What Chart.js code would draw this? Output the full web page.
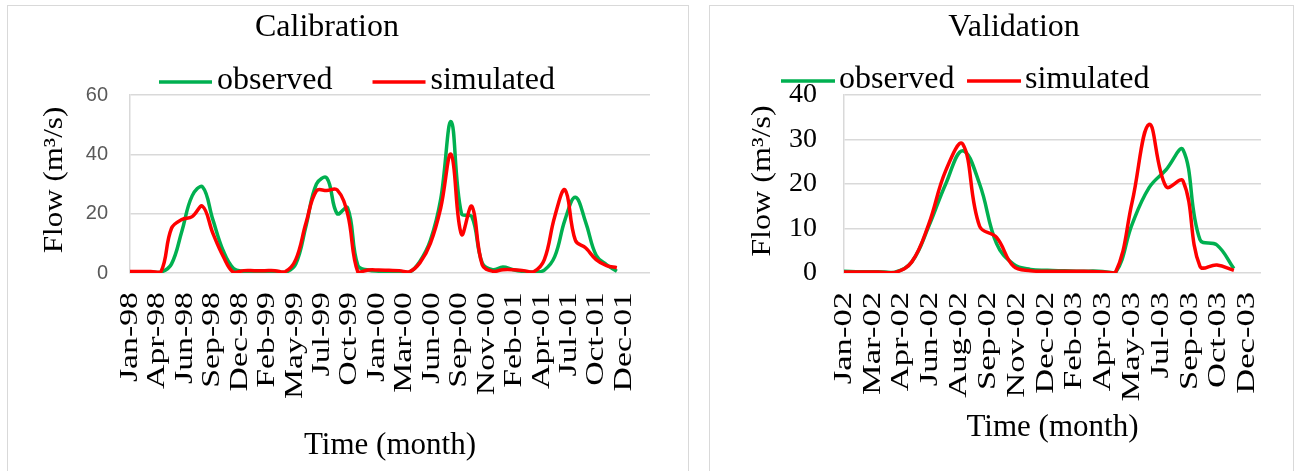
<!DOCTYPE html>
<html>
<head>
<meta charset="utf-8">
<title>Calibration / Validation flow</title>
<script src="https://cdn.jsdelivr.net/npm/chart.js@4/dist/chart.umd.min.js"></script>
<style>
  body { margin: 0; background: #fff; }
  .panel { position: absolute; top: 5px; height: 480px; border: 1.5px solid #d9d9d9; box-sizing: border-box; }
  canvas { position: absolute; top: 0; }
</style>
</head>
<body>
<div class="panel" style="left:7px;width:682px"></div>
<div class="panel" style="left:709px;width:585px"></div>
<canvas id="calChart" width="700" height="471" style="left:0"></canvas>
<canvas id="valChart" width="596" height="471" style="left:700px"></canvas>
<script>
// Calibration period, monthly flow Jan-98 .. Dec-01 (m3/s)
const calObserved = [0.3, 0.3, 0.3, 0.3, 3, 14, 26, 29, 18, 7.5, 1.5, 0.6,
                     0.5, 0.4, 0.3, 0.2, 3, 16, 30, 32, 20, 22, 2.5, 1,
                     0.6, 0.5, 0.4, 0.3, 4, 11, 25, 51, 20, 19, 3.4, 1.1,
                     2, 1.1, 0.5, 0.3, 1, 5.5, 18, 25.5, 17, 6, 2.8, 0.6];
const calSimulated = [0.5, 0.5, 0.5, 0.5, 15, 18, 19, 22.5, 13.4, 5.6, 0.2, 0.8,
                      0.8, 0.8, 0.8, 0.5, 4.5, 17, 27.7, 27.8, 28, 20, 0.3, 1,
                      1, 0.9, 0.8, 0.5, 3.5, 10, 22, 40, 13, 22.5, 2.8, 0.6,
                      1.1, 1.1, 0.8, 0.5, 4.5, 19, 28, 11, 8.4, 4.5, 2.5, 1.8];
const calTickLabels = ['Jan-98', 'Apr-98', 'Jun-98', 'Sep-98', 'Dec-98', 'Feb-99', 'May-99',
                       'Jul-99', 'Oct-99', 'Jan-00', 'Mar-00', 'Jun-00', 'Sep-00', 'Nov-00',
                       'Feb-01', 'Apr-01', 'Jul-01', 'Oct-01', 'Dec-01'];
const calTickStep = 2.65; // months between axis labels

// Validation period, monthly flow Jan-02 .. Dec-03 (m3/s)
const valObserved = [0.4, 0.3, 0.3, 0.2, 2.5, 10.5, 20, 27.5, 20, 6.6, 2, 0.8,
                     0.6, 0.5, 0.4, 0.4, 0, 11, 19.2, 23.2, 27.7, 7.5, 6.3, 1];
const valSimulated = [0.2, 0.2, 0.2, 0.1, 2.5, 11, 23, 29, 10.5, 8, 1.5, 0.5,
                      0.4, 0.4, 0.4, 0.3, 0, 16, 33.4, 19.4, 20.7, 1.5, 1.8, 0.6];
const valTickLabels = ['Jan-02', 'Mar-02', 'Apr-02', 'Jun-02', 'Aug-02', 'Sep-02', 'Nov-02',
                       'Dec-02', 'Feb-03', 'Apr-03', 'May-03', 'Jul-03', 'Sep-03', 'Oct-03', 'Dec-03'];
const valTickStep = 1.7;

const GREEN = '#00b050';
const RED = '#ff0000';
const SERIF = "'Liberation Serif', 'Times New Roman', serif";

// rotated texts in the original are stretched along their length, draw them by hand
function rotatedText(ctx, text, x, y, stretch, align) {
    ctx.save();
    ctx.translate(x, y);
    ctx.rotate(-Math.PI / 2);
    ctx.scale(stretch, 1);
    ctx.textAlign = align;
    ctx.fillText(text, 0, 0);
    ctx.restore();
}

function makeDecor(cfg) {
    return {
        id: 'decor',
        afterDraw(chart) {
            const { ctx, chartArea } = chart;
            const xs = chart.scales.x;
            ctx.save();
            ctx.fillStyle = '#000';
            ctx.textBaseline = 'middle';

            ctx.font = cfg.tickFont;
            xs.ticks.forEach((t, i) => {
                rotatedText(ctx, cfg.tickLabels[i], xs.getPixelForValue(t.value),
                    chartArea.bottom + cfg.tickGap, cfg.tickStretch, 'right');
            });

            ctx.font = cfg.yTitleFont;
            rotatedText(ctx, 'Flow (m³/s)', cfg.yTitleX, cfg.yTitleY, cfg.yTitleStretch, 'center');

            // legend: short line sample then label, left to right
            ctx.font = '32px ' + SERIF;
            ctx.textAlign = 'left';
            ctx.textBaseline = 'alphabetic';
            let lx = cfg.legendX;
            chart.data.datasets.forEach(ds => {
                ctx.strokeStyle = ds.borderColor;
                ctx.lineWidth = ds.borderWidth;
                ctx.beginPath();
                ctx.moveTo(lx, cfg.legendY - 7);
                ctx.lineTo(lx + cfg.legendLine, cfg.legendY - 7);
                ctx.stroke();
                lx += cfg.legendLine + cfg.legendTextGap;
                ctx.fillText(ds.label, lx, cfg.legendY);
                lx += ctx.measureText(ds.label).width + cfg.legendItemGap;
            });
            ctx.restore();
        }
    };
}

function makeChart(id, cfg) {
    const points = arr => arr.map((v, i) => ({ x: i, y: v }));
    return new Chart(document.getElementById(id), {
        type: 'line',
        data: {
            datasets: [
                { label: 'observed', data: points(cfg.observed), borderColor: GREEN, borderWidth: 3.5, order: 1 },
                { label: 'simulated', data: points(cfg.simulated), borderColor: RED, borderWidth: 3.5, order: 0 }
            ]
        },
        options: {
            responsive: false,
            animation: false,
            devicePixelRatio: 1,
            layout: { padding: { left: cfg.padLeft, right: cfg.padRight, top: 0, bottom: 0 } },
            elements: { point: { radius: 0 }, line: { tension: 0.4, fill: false } },
            plugins: {
                legend: { display: false },
                tooltip: { enabled: false },
                title: {
                    display: true,
                    text: cfg.title,
                    color: '#000',
                    font: { family: SERIF, size: 32, weight: 'normal' },
                    padding: { top: 8.8, bottom: 47.8 }
                }
            },
            scales: {
                x: {
                    type: 'linear',
                    min: 0,
                    max: cfg.xMax,
                    grid: { display: false },
                    border: { display: false },
                    ticks: { display: false },
                    afterBuildTicks: axis => {
                        axis.ticks = cfg.tickLabels.map((_, k) => ({ value: k * cfg.tickStep }));
                    },
                    afterFit: axis => { axis.height = 198; },
                    title: {
                        display: true,
                        text: 'Time (month)',
                        color: '#000',
                        font: { family: SERIF, size: 31, weight: 'normal' },
                        padding: { top: 0, bottom: cfg.xTitlePad }
                    }
                },
                y: {
                    min: 0,
                    max: cfg.yMax,
                    ticks: { stepSize: cfg.yStep, padding: cfg.yTickPad, color: cfg.yTickColor, font: cfg.yTickFont },
                    grid: { color: '#d9d9d9', lineWidth: 1.5, drawTicks: false },
                    border: { color: '#d9d9d9', width: 1.5 },
                    afterFit: axis => { axis.width = cfg.yWidth; }
                }
            }
        },
        plugins: [makeDecor(cfg)]
    });
}

makeChart('calChart', {
    title: 'Calibration',
    observed: calObserved,
    simulated: calSimulated,
    tickLabels: calTickLabels,
    tickStep: calTickStep,
    xMax: 50.2,
    yMax: 60,
    yStep: 20,
    padLeft: 4,
    padRight: 50,
    yWidth: 126,
    yTickPad: 22,
    yTickColor: '#595959',
    yTickFont: { family: "'Liberation Sans', Arial, sans-serif", size: 20 },
    xTitlePad: 6.4,
    tickFont: '26px ' + SERIF,
    tickGap: 19,
    tickStretch: 1.3,
    yTitleFont: '27px ' + SERIF,
    yTitleX: 55,
    yTitleY: 180,
    yTitleStretch: 1.15,
    legendX: 159,
    legendY: 89,
    legendLine: 53,
    legendTextGap: 5,
    legendItemGap: 40
});

makeChart('valChart', {
    title: 'Validation',
    observed: valObserved,
    simulated: valSimulated,
    tickLabels: valTickLabels,
    tickStep: valTickStep,
    xMax: 24.6,
    yMax: 40,
    yStep: 10,
    padLeft: 67,
    padRight: 35,
    yWidth: 77,
    yTickPad: 27,
    yTickColor: '#000',
    yTickFont: { family: SERIF, size: 28 },
    xTitlePad: 24.4,
    tickFont: '26px ' + SERIF,
    tickGap: 19,
    tickStretch: 1.33,
    yTitleFont: '27px ' + SERIF,
    yTitleX: 63,
    yTitleY: 181,
    yTitleStretch: 1.19,
    legendX: 81,
    legendY: 88,
    legendLine: 54,
    legendTextGap: 4,
    legendItemGap: 12.5
});
</script>
</body>
</html>
